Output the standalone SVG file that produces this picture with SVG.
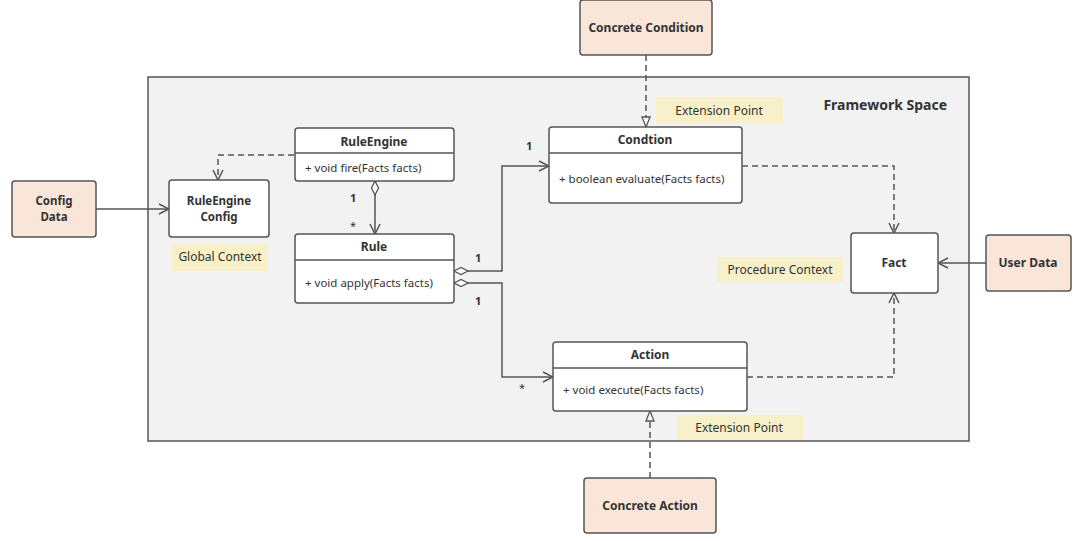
<svg xmlns="http://www.w3.org/2000/svg" width="1080" height="541" viewBox="0 0 1080 541">
<style>
.frame{fill:#f2f2f2;stroke:#555;stroke-width:1.5}
.ext{fill:#fae6d8;stroke:#555;stroke-width:1.5}
.cls{fill:#fff;stroke:#555;stroke-width:1.5}
.note{fill:#f8f0c8;stroke:none}
.t{font-family:"Noto Sans","Open Sans",sans-serif;font-size:12px;fill:#333}
.b{font-weight:bold}
.m{font-size:11.5px}
.s{font-size:11px}
.two{font-size:11.5px}
.title{font-size:14px}
.c{text-anchor:middle}
.ln{fill:none;stroke:#555;stroke-width:1.5}
.d{stroke-dasharray:6,4}
</style>
<defs>
<marker id="open" viewBox="0 0 12 12" refX="11" refY="6" markerWidth="12" markerHeight="12" markerUnits="userSpaceOnUse" orient="auto">
<path d="M1,1 L11,6 L1,11" fill="none" stroke="#555" stroke-width="1.5"/>
</marker>
<marker id="tri" viewBox="0 0 12 12" refX="11" refY="6" markerWidth="12" markerHeight="12" markerUnits="userSpaceOnUse" orient="auto">
<path d="M1,2 L11,6 L1,10 Z" fill="#fff" stroke="#555" stroke-width="1.3"/>
</marker>
<marker id="dia" viewBox="0 0 16 10" refX="1" refY="5" markerWidth="16" markerHeight="10" markerUnits="userSpaceOnUse" orient="auto">
<path d="M1,5 L8,1.5 L15,5 L8,8.5 Z" fill="#fff" stroke="#555" stroke-width="1.3"/>
</marker>
</defs>

<g id="framework">
<rect class="frame" x="148" y="77" width="821" height="364"/>
<text class="t b title" x="947" y="110" text-anchor="end">Framework Space</text>
</g>

<g id="connectors">
<path class="ln" d="M96,209 H169" marker-end="url(#open)"/>
<path class="ln d" d="M294,155 H218 V180" marker-end="url(#open)"/>
<path class="ln" d="M375,181 V234" marker-start="url(#dia)" marker-end="url(#open)"/>
<path class="ln" d="M454,271 H502 V166 H549" marker-start="url(#dia)" marker-end="url(#open)"/>
<path class="ln" d="M454,283 H502 V377 H553" marker-start="url(#dia)" marker-end="url(#open)"/>
<path class="ln d" d="M646,55 V127" marker-end="url(#tri)"/>
<path class="ln d" d="M650,478 V411" marker-end="url(#tri)"/>
<path class="ln d" d="M742,166 H894 V233" marker-end="url(#open)"/>
<path class="ln d" d="M747,377 H894 V293" marker-end="url(#open)"/>
<path class="ln" d="M986,263 H938" marker-end="url(#open)"/>
<text class="t b s" x="350" y="202">1</text>
<text class="t s" x="350" y="230">*</text>
<text class="t b s" x="475" y="262">1</text>
<text class="t b s" x="475" y="305">1</text>
<text class="t b s" x="526" y="150">1</text>
<text class="t s" x="519" y="392">*</text>
</g>

<g id="config-data">
<rect class="ext" x="12" y="181" width="84" height="56" rx="3"/>
<text class="t b c two" x="54" y="205">Config</text>
<text class="t b c two" x="54" y="221">Data</text>
</g>

<g id="ruleengine-config">
<rect class="cls" x="169" y="180" width="100" height="57" rx="3"/>
<text class="t b c two" x="219" y="205">RuleEngine</text>
<text class="t b c two" x="219" y="221">Config</text>
</g>

<g id="global-context">
<rect class="note" x="172" y="244" width="96" height="27"/>
<text class="t c" x="220" y="261">Global Context</text>
</g>

<g id="ruleengine">
<rect class="cls" x="295" y="128" width="159" height="53" rx="3"/>
<line class="ln" x1="295" y1="153" x2="454" y2="153"/>
<text class="t b c" x="374" y="146">RuleEngine</text>
<text class="t m" x="305" y="172">+ void fire(Facts facts)</text>
</g>

<g id="rule">
<rect class="cls" x="295" y="234" width="159" height="69" rx="3"/>
<line class="ln" x1="295" y1="260" x2="454" y2="260"/>
<text class="t b c" x="374" y="251">Rule</text>
<text class="t m" x="305" y="287">+ void apply(Facts facts)</text>
</g>

<g id="concrete-condition">
<rect class="ext" x="580" y="0" width="132" height="55" rx="3"/>
<text class="t b c" x="646" y="32">Concrete Condition</text>
</g>

<g id="extension-point-top">
<rect class="note" x="656" y="97" width="127" height="26"/>
<text class="t c" x="719" y="115">Extension Point</text>
</g>

<g id="condition">
<rect class="cls" x="549" y="127" width="193" height="76" rx="3"/>
<line class="ln" x1="549" y1="153" x2="742" y2="153"/>
<text class="t b c" x="645" y="144">Condtion</text>
<text class="t m" x="559" y="183">+ boolean evaluate(Facts facts)</text>
</g>

<g id="procedure-context">
<rect class="note" x="717" y="257" width="126" height="25"/>
<text class="t c" x="780" y="274">Procedure Context</text>
</g>

<g id="fact">
<rect class="cls" x="851" y="233" width="87" height="60" rx="3"/>
<text class="t b c" x="894" y="267">Fact</text>
</g>

<g id="user-data">
<rect class="ext" x="986" y="235" width="85" height="56" rx="3"/>
<text class="t b c" x="1028" y="267">User Data</text>
</g>

<g id="action">
<rect class="cls" x="553" y="342" width="194" height="69" rx="3"/>
<line class="ln" x1="553" y1="368" x2="747" y2="368"/>
<text class="t b c" x="650" y="359">Action</text>
<text class="t m" x="563" y="394">+ void execute(Facts facts)</text>
</g>

<g id="extension-point-bottom">
<rect class="note" x="677" y="415" width="126" height="25"/>
<text class="t c" x="739" y="432">Extension Point</text>
</g>

<g id="concrete-action">
<rect class="ext" x="584" y="478" width="132" height="55" rx="3"/>
<text class="t b c" x="650" y="510">Concrete Action</text>
</g>
</svg>
